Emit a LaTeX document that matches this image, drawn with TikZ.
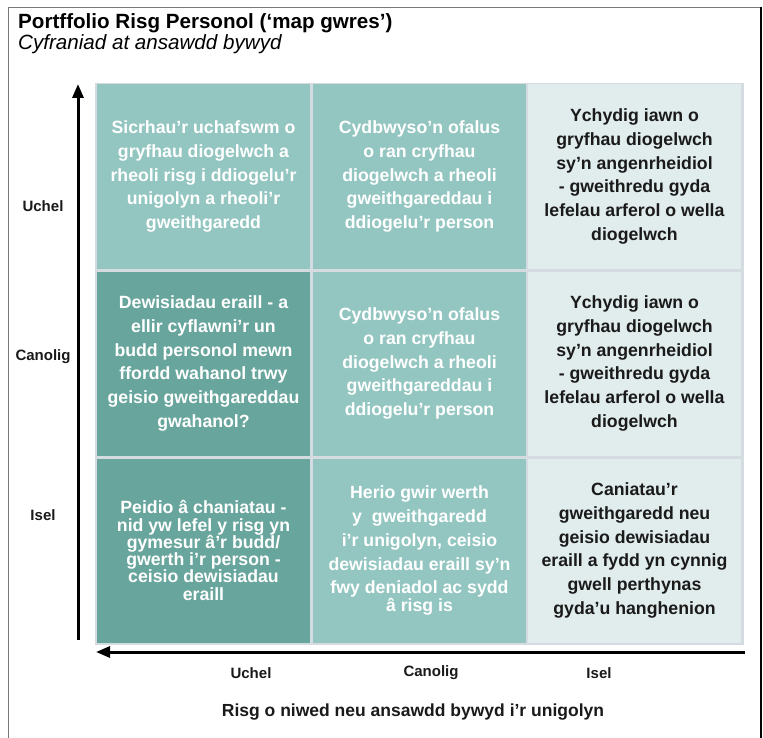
\documentclass[tikz,border=0pt]{standalone}
\usepackage{fontspec}
\setmainfont{Liberation Sans}
\usetikzlibrary{arrows.meta}
\definecolor{tealA}{HTML}{93C6C1}
\definecolor{tealB}{HTML}{68A59C}
\definecolor{paleC}{HTML}{E1ECEC}
\definecolor{gridG}{HTML}{D5DCE1}
\definecolor{frameG}{HTML}{7A7A7A}
\definecolor{inkD}{HTML}{1A1A1A}
\begin{document}
\begin{tikzpicture}[x=1pt,y=-1pt,
  cellbox/.style={minimum width=213pt, minimum height=184pt, inner sep=0pt, align=center,
    font=\bfseries\fontsize{17.7}{23.7}\selectfont},
  darkcell/.style={cellbox, fill=tealB, text=white},
  midcell/.style={cellbox, fill=tealA, text=white},
  palecell/.style={cellbox, fill=paleC, text=inkD},
  axislab/.style={font=\bfseries\fontsize{15}{18}\selectfont, text=inkD, inner sep=0pt},
  axisarrow/.style={line width=3pt, -{Triangle[length=14pt,width=11pt]}, black}
]
\useasboundingbox (0,0) rectangle (763,738);
\fill[white] (0,0) rectangle (763,738);
% frame
\draw[frameG, line width=1.5pt] (8.5,760) -- (8.5,7.5) -- (760,7.5);
\draw[black, line width=1.5pt] (761,7) -- (761,760);
% titles
\node[anchor=base west, inner sep=0pt, font=\bfseries\fontsize{20.6}{24}\selectfont] (title) at (18,28.5) {Portffolio Risg Personol (‘map gwres’)};
\node[anchor=base west, inner sep=0pt, font=\itshape\fontsize{20.6}{24}\selectfont] (subtitle) at (18,49.5) {Cyfraniad at ansawdd bywyd};
% grid background
\fill[gridG] (95,83) rectangle (744,645);
% cells
\node[midcell]  (c11) at (203.5,176.5) {Sicrhau’r uchafswm o\\gryfhau diogelwch a\\rheoli risg i ddiogelu’r\\unigolyn a rheoli’r\\gweithgaredd};
\node[midcell]  (c12) at (419.5,176.5) {Cydbwyso’n ofalus\\o ran cryfhau\\diogelwch a rheoli\\gweithgareddau i\\ddiogelu’r person};
\node[palecell] (c13) at (634.5,176.5) {Ychydig iawn o\\gryfhau diogelwch\\sy’n angenrheidiol\\- gweithredu gyda\\lefelau arferol o wella\\diogelwch};
\node[darkcell] (c21) at (203.5,363.5) {Dewisiadau eraill - a\\ellir cyflawni’r un\\budd personol mewn\\ffordd wahanol trwy\\geisio gweithgareddau\\gwahanol?};
\node[midcell]  (c22) at (419.5,363.5) {Cydbwyso’n ofalus\\o ran cryfhau\\diogelwch a rheoli\\gweithgareddau i\\ddiogelu’r person};
\node[palecell] (c23) at (634.5,363.5) {Ychydig iawn o\\gryfhau diogelwch\\sy’n angenrheidiol\\- gweithredu gyda\\lefelau arferol o wella\\diogelwch};
\node[darkcell, font=\bfseries\fontsize{17.7}{17.3}\selectfont] (c31) at (203.5,550.5) {Peidio â chaniatau -\\nid yw lefel y risg yn\\gymesur â’r budd/\\gwerth i’r person -\\ceisio dewisiadau\\eraill};
\node[midcell]  (c32) at (419.5,550.5) {Herio gwir werth\\y\ \ gweithgaredd\\i’r unigolyn, ceisio\\dewisiadau eraill sy’n\\fwy deniadol ac sydd\\[-6.4pt]â risg is};
\node[palecell] (c33) at (634.5,550.5) {Caniatau’r\\gweithgaredd neu\\geisio dewisiadau\\eraill a fydd yn cynnig\\gwell perthynas\\gyda’u hanghenion};
% axes
\coordinate (vbot) at (78,640);
\coordinate (vtop) at (78,84);
\coordinate (hright) at (745,652);
\coordinate (hleft) at (96,652);
\draw[axisarrow] (vbot) -- (vtop);
\draw[axisarrow] (hright) -- (hleft);
% axis labels
\node[axislab] (yhigh) at (43,206) {Uchel};
\node[axislab] (ymid) at (43,357) {Canolig};
\node[axislab] (ylow) at (43,515) {Isel};
\node[axislab] (xhigh) at (251,673) {Uchel};
\node[axislab] (xmid) at (431,673) {Canolig};
\node[axislab] (xlow) at (599,673) {Isel};
\node[axislab, font=\bfseries\fontsize{17.5}{20}\selectfont] (xtitle) at (413,712) {Risg o niwed neu ansawdd bywyd i’r unigolyn};
\end{tikzpicture}
\end{document}
